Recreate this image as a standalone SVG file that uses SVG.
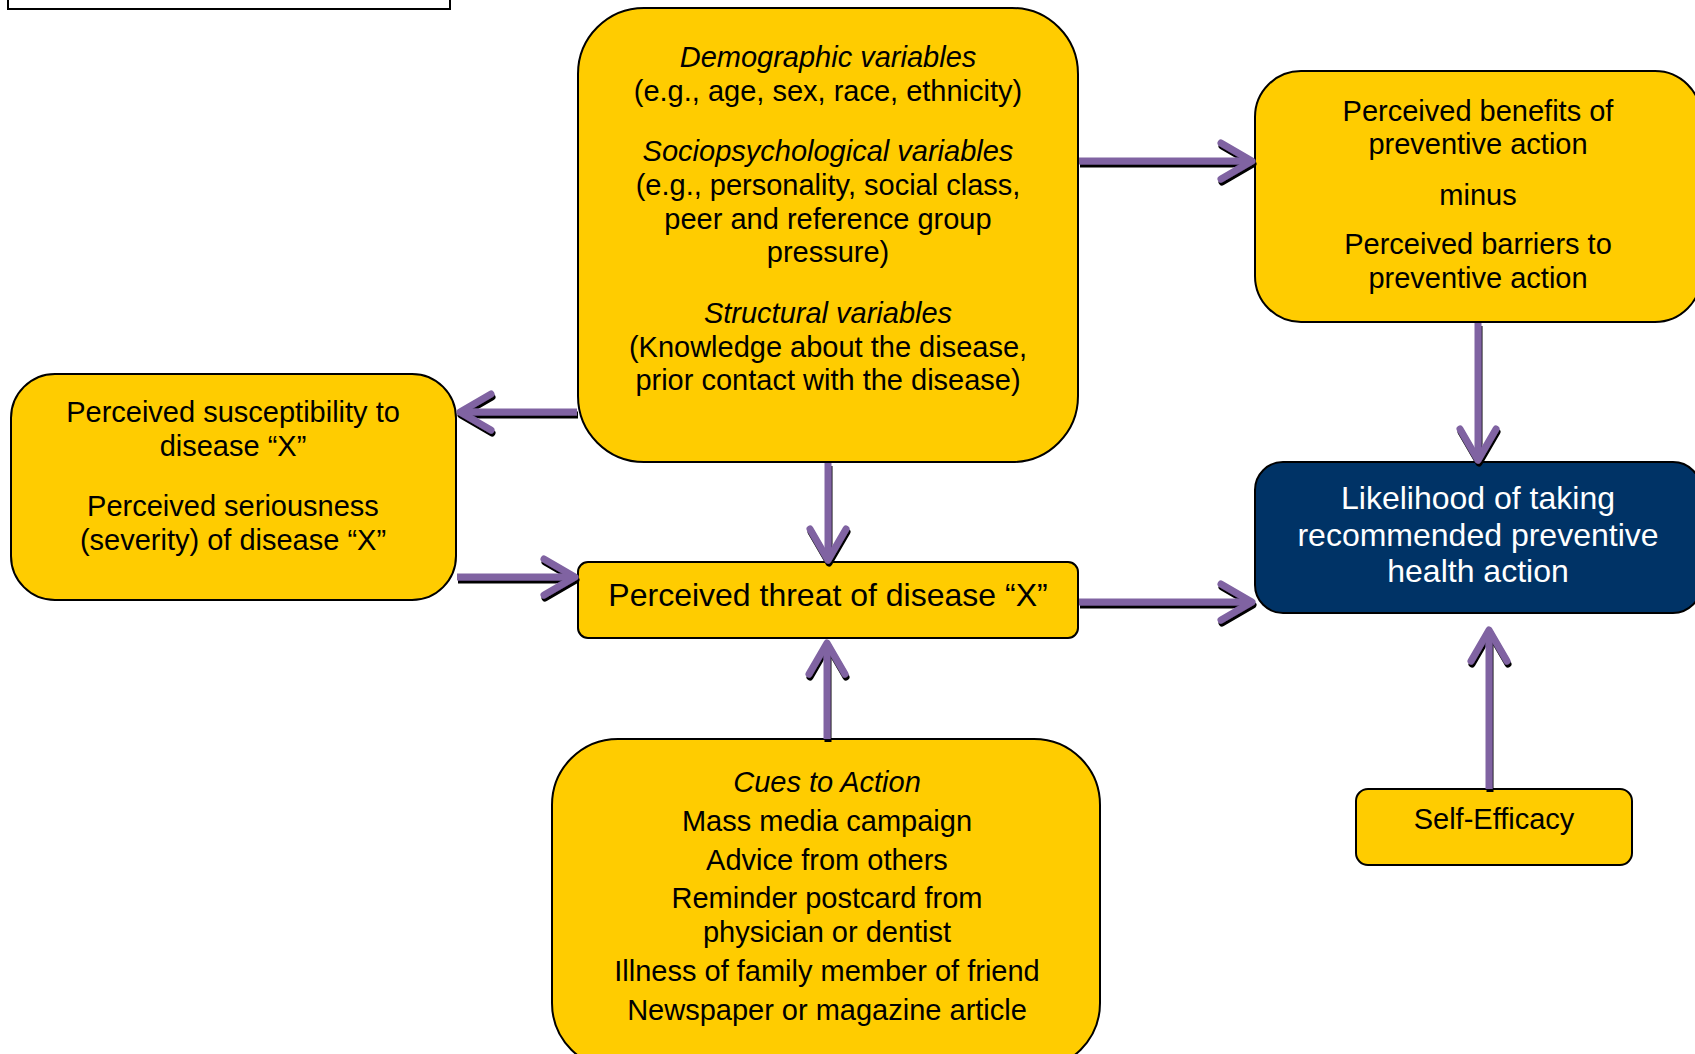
<svg xmlns="http://www.w3.org/2000/svg" width="1695" height="1054" viewBox="0 0 1695 1054">
<style>
  .box { fill: #FFCC00; stroke: #000; stroke-width: 2; }
  .dark { fill: #003366; stroke: #000; stroke-width: 2; }
  text { font-family: "Liberation Sans", Arial, sans-serif; font-size: 29px; fill: #000; text-anchor: middle; }
  .it { font-style: italic; }
  .big { font-size: 32px; }
  .wt { fill: #fff; }
  .conn line { stroke: #8064A2; stroke-width: 7; fill: none; }
</style>
<defs>
  <marker id="ah" markerUnits="userSpaceOnUse" viewBox="-40 -25 50 50" markerWidth="50" markerHeight="50" refX="0" refY="0" orient="auto" overflow="visible">
    <path d="M -31 -18 L 0 0 L -31 18" fill="none" stroke="#8064A2" stroke-width="7" stroke-linecap="round" stroke-linejoin="round"/>
  </marker>
  <filter id="sh" x="-20%" y="-20%" width="140%" height="140%">
    <feDropShadow dx="1" dy="3" stdDeviation="0" flood-color="#000" flood-opacity="1"/>
  </filter>
</defs>

<rect id="topbox" x="8" y="-20" width="442" height="29" fill="#fff" stroke="#000" stroke-width="2"/>

<g id="modifying">
  <rect class="box" x="578" y="8" width="500" height="454" rx="66" ry="66"/>
  <text class="it" x="828" y="67">Demographic variables</text>
  <text x="828" y="101">(e.g., age, sex, race, ethnicity)</text>
  <text class="it" x="828" y="161">Sociopsychological variables</text>
  <text x="828" y="195">(e.g., personality, social class,</text>
  <text x="828" y="229">peer and reference group</text>
  <text x="828" y="262">pressure)</text>
  <text class="it" x="828" y="323">Structural variables</text>
  <text x="828" y="357">(Knowledge about the disease,</text>
  <text x="828" y="390">prior contact with the disease)</text>
</g>

<g id="benefits">
  <rect class="box" x="1255" y="71" width="446" height="251" rx="46" ry="46"/>
  <text x="1478" y="121">Perceived benefits of</text>
  <text x="1478" y="154">preventive action</text>
  <text x="1478" y="205">minus</text>
  <text x="1478" y="254">Perceived barriers to</text>
  <text x="1478" y="288">preventive action</text>
</g>

<g id="susceptibility">
  <rect class="box" x="11" y="374" width="445" height="226" rx="44" ry="44"/>
  <text x="233" y="422">Perceived susceptibility to</text>
  <text x="233" y="456">disease “X”</text>
  <text x="233" y="516">Perceived seriousness</text>
  <text x="233" y="550">(severity) of disease “X”</text>
</g>

<g id="threat">
  <rect class="box" x="578" y="562" width="500" height="76" rx="10" ry="10"/>
  <text class="big" x="828" y="606">Perceived threat of disease “X”</text>
</g>

<g id="likelihood">
  <rect class="dark" x="1255" y="462" width="446" height="151" rx="28" ry="28"/>
  <text class="big wt" x="1478" y="509">Likelihood of taking</text>
  <text class="big wt" x="1478" y="546">recommended preventive</text>
  <text class="big wt" x="1478" y="582">health action</text>
</g>

<g id="selfefficacy">
  <rect class="box" x="1356" y="789" width="276" height="76" rx="12" ry="12"/>
  <text x="1494" y="829">Self-Efficacy</text>
</g>

<g id="cues">
  <rect class="box" x="552" y="739" width="548" height="330" rx="66" ry="66"/>
  <text class="it" x="827" y="792">Cues to Action</text>
  <text x="827" y="831">Mass media campaign</text>
  <text x="827" y="870">Advice from others</text>
  <text x="827" y="908">Reminder postcard from</text>
  <text x="827" y="942">physician or dentist</text>
  <text x="827" y="981">Illness of family member of friend</text>
  <text x="827" y="1020">Newspaper or magazine article</text>
</g>

<g id="connectors" class="conn" filter="url(#sh)">
  <line x1="1079" y1="161" x2="1252" y2="161" marker-end="url(#ah)"/>
  <line x1="577" y1="412" x2="460" y2="412" marker-end="url(#ah)"/>
  <line x1="828" y1="463" x2="828" y2="560" marker-end="url(#ah)"/>
  <line x1="457" y1="577" x2="575" y2="577" marker-end="url(#ah)"/>
  <line x1="1079" y1="602" x2="1252" y2="602" marker-end="url(#ah)"/>
  <line x1="1478" y1="323" x2="1478" y2="460" marker-end="url(#ah)"/>
  <line x1="827" y1="739" x2="827" y2="643" marker-end="url(#ah)"/>
  <line x1="1489" y1="789" x2="1489" y2="630" marker-end="url(#ah)"/>
</g>
</svg>
